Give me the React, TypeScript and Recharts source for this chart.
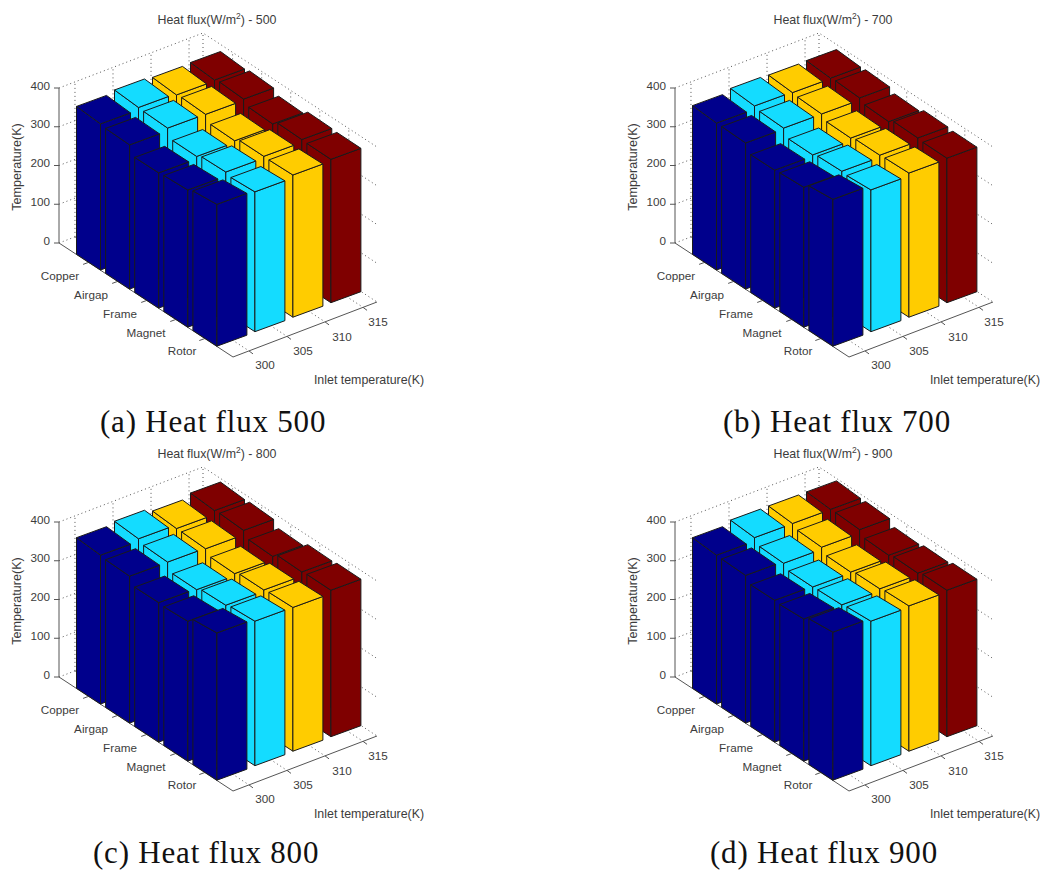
import { ScatterChart, Scatter, XAxis, YAxis } from 'recharts';

const parts = ['Copper', 'Airgap', 'Frame', 'Magnet', 'Rotor'];
const inlets = [300, 305, 310, 315];
const tempTicks = [0, 100, 200, 300, 400];
const inletColors = ['#00008c', '#14dcff', '#ffcc00', '#7f0000'];

// temperatures per inlet (rows) and part (columns)
const flux500 = [
  [377, 372, 349, 354, 366],
  [382, 378, 354, 363, 361],
  [377, 376, 357, 366, 367],
  [378, 378, 363, 372, 370],
];
const flux700 = [
  [379, 377, 356, 361, 379],
  [386, 378, 358, 365, 366],
  [383, 377, 364, 369, 372],
  [383, 381, 369, 376, 373],
];
const flux800 = [
  [384, 379, 360, 361, 380],
  [389, 378, 356, 365, 373],
  [378, 375, 360, 367, 371],
  [387, 385, 367, 376, 378],
];
const flux900 = [
  [384, 381, 366, 367, 382],
  [392, 375, 363, 366, 373],
  [391, 379, 364, 370, 375],
  [390, 387, 370, 373, 378],
];

const W = 425;
const H = 400;
const PX_PER_K = 155 / 400;
const TEXT = '#3c3c3c';
const SANS = '"Liberation Sans", Arial, sans-serif';

// oblique view of the floor, matlab bar3 style
const LEFT = { x: 59, y: 243 };
const U = { x: 174, y: 114 };
const V = { x: 144, y: -55 };
const uTicks = [0.17, 0.337, 0.504, 0.671, 0.838];
const vTicks = [0.111, 0.375, 0.639, 0.903];

function floor(u: number, v: number, temp = 0) {
  return {
    sx: LEFT.x + u * U.x + v * V.x,
    sy: LEFT.y + u * U.y + v * V.y - temp * PX_PER_K,
  };
}

function barFront(part: number, inlet: number) {
  return {
    sx: 100.5 + part * 29.1 + inlet * 38,
    sy: 270 + part * 19.05 - inlet * 14.5,
  };
}

const wallGrid = [
  ...tempTicks.map((t) => [floor(0, 0, t), floor(0, 1, t), floor(1, 1, t)]),
  ...vTicks.map((v) => [floor(0, v), floor(0, v, 400)]),
  ...uTicks.map((u) => [floor(u, 1), floor(u, 1, 400)]),
  ...vTicks.map((v) => [floor(0, v), floor(1, v)]),
  ...uTicks.map((u) => [floor(u, 0), floor(u, 1)]),
  [floor(0, 1), floor(0, 1, 400)],
];

const solidLines = [
  [floor(0, 0, 400), floor(0, 0), floor(1, 0), floor(1, 1)],
  ...tempTicks.map((t) => {
    const p = floor(0, 0, t);
    return [p, { sx: p.sx - 5, sy: p.sy }];
  }),
  ...uTicks.map((u) => {
    const p = floor(u, 0);
    return [p, { sx: p.sx - 5.5, sy: p.sy + 2 }];
  }),
  ...vTicks.map((v) => {
    const p = floor(1, v);
    return [p, { sx: p.sx + 4, sy: p.sy + 3 }];
  }),
];

const partLabelAt = [
  [60, 275],
  [91, 294],
  [120, 313],
  [146, 332],
  [182, 350],
];
const inletLabelAt = [
  [265, 364],
  [303, 350],
  [342, 336],
  [378, 321],
];

function NoMark() {
  return <g />;
}

function Cuboid(props: any) {
  const { cx, cy, fill, payload } = props;
  const rise = payload.temp * PX_PER_K;
  const lx = -24;
  const ly = -15.7;
  // the top faces get slightly flatter towards the viewer in the source picture
  const topLy = -17.5 + payload.part * (1 - payload.inlet * 0.2);
  const rx = 30;
  const ry = -11;
  const pts = (list: number[][]) => list.map(([a, b]) => `${cx + a},${cy + b}`).join(' ');
  const shared = { fill, stroke: '#1a1a1a', strokeWidth: 1, strokeLinejoin: 'round' as const };
  return (
    <g>
      <polygon {...shared} points={pts([[lx, ly], [0, 0], [0, -rise], [lx, topLy - rise]])} />
      <polygon {...shared} points={pts([[0, 0], [rx, ry], [rx, ry - rise], [0, -rise]])} />
      <polygon {...shared} points={pts([[lx, topLy - rise], [0, -rise], [rx, ry - rise], [lx + rx, topLy + ry - rise]])} />
    </g>
  );
}

function Label(props: any) {
  const { cx, cy, payload } = props;
  const shared = { fontFamily: SANS, fontSize: payload.size ?? 11.7, fill: TEXT, dominantBaseline: 'central' as const };
  if (payload.flux) {
    return (
      <text {...shared} x={cx} y={cy} textAnchor="middle">
        Heat flux(W/m
        <tspan fontSize={8.5} dy={-4}>2</tspan>
        <tspan dy={4}>) - {payload.flux}</tspan>
      </text>
    );
  }
  return (
    <text
      {...shared}
      x={cx}
      y={cy}
      textAnchor={payload.anchor ?? 'middle'}
      transform={payload.rotate ? `rotate(-90 ${cx} ${cy})` : undefined}
    >
      {payload.text}
    </text>
  );
}

function Panel({ flux, temps, left, top }: { flux: number; temps: number[][]; left: number; top: number }) {
  const labels = [
    { sx: 217, sy: 20, flux, size: 12.4 },
    { sx: 17, sy: 167, text: 'Temperature(K)', rotate: true, size: 12.6 },
    { sx: 369, sy: 380, text: 'Inlet temperature(K)', size: 12.4 },
    ...tempTicks.map((t) => ({ sx: 50, sy: 240 - t * PX_PER_K, text: String(t), anchor: 'end' })),
    ...parts.map((p, i) => ({ sx: partLabelAt[i][0], sy: partLabelAt[i][1], text: p })),
    ...inlets.map((t, j) => ({ sx: inletLabelAt[j][0], sy: inletLabelAt[j][1], text: String(t) })),
  ];
  return (
    <div style={{ position: 'absolute', left, top }}>
      <ScatterChart width={W} height={H} margin={{ top: 0, right: 0, bottom: 0, left: 0 }}>
        <XAxis type="number" dataKey="sx" domain={[0, W]} hide allowDataOverflow />
        <YAxis type="number" dataKey="sy" domain={[0, H]} reversed hide allowDataOverflow />
        {wallGrid.map((line, k) => (
          <Scatter
            key={`grid-${k}`}
            data={line}
            shape={NoMark}
            line={{ stroke: '#555555', strokeWidth: 1, strokeDasharray: '1 3' }}
            isAnimationActive={false}
          />
        ))}
        {solidLines.map((line, k) => (
          <Scatter
            key={`axis-${k}`}
            data={line}
            shape={NoMark}
            line={{ stroke: '#555555', strokeWidth: 1 }}
            isAnimationActive={false}
          />
        ))}
        {[3, 2, 1, 0].map((j) => (
          <Scatter
            key={inlets[j]}
            data={temps[j].map((temp, i) => ({ ...barFront(i, j), temp, part: i, inlet: j }))}
            fill={inletColors[j]}
            shape={Cuboid}
            isAnimationActive={false}
          />
        ))}
        <Scatter data={labels} shape={Label} isAnimationActive={false} />
      </ScatterChart>
    </div>
  );
}

const captionStyle = {
  position: 'absolute' as const,
  fontFamily: '"Liberation Serif", serif',
  fontSize: 31,
  letterSpacing: 0.8,
  lineHeight: '34px',
  color: '#111',
  whiteSpace: 'nowrap' as const,
};

export default function App() {
  return (
    <div style={{ position: 'absolute', left: 0, top: 0, width: 1041, height: 870, background: '#fff', overflow: 'hidden' }}>
      <Panel flux={500} temps={flux500} left={0} top={0} />
      <Panel flux={700} temps={flux700} left={616} top={0} />
      <Panel flux={800} temps={flux800} left={0} top={434} />
      <Panel flux={900} temps={flux900} left={616} top={434} />
      <div style={{ ...captionStyle, left: 100, top: 405 }}>(a) Heat flux 500</div>
      <div style={{ ...captionStyle, left: 723, top: 405 }}>(b) Heat flux 700</div>
      <div style={{ ...captionStyle, left: 93, top: 836 }}>(c) Heat flux 800</div>
      <div style={{ ...captionStyle, left: 710, top: 836 }}>(d) Heat flux 900</div>
    </div>
  );
}
